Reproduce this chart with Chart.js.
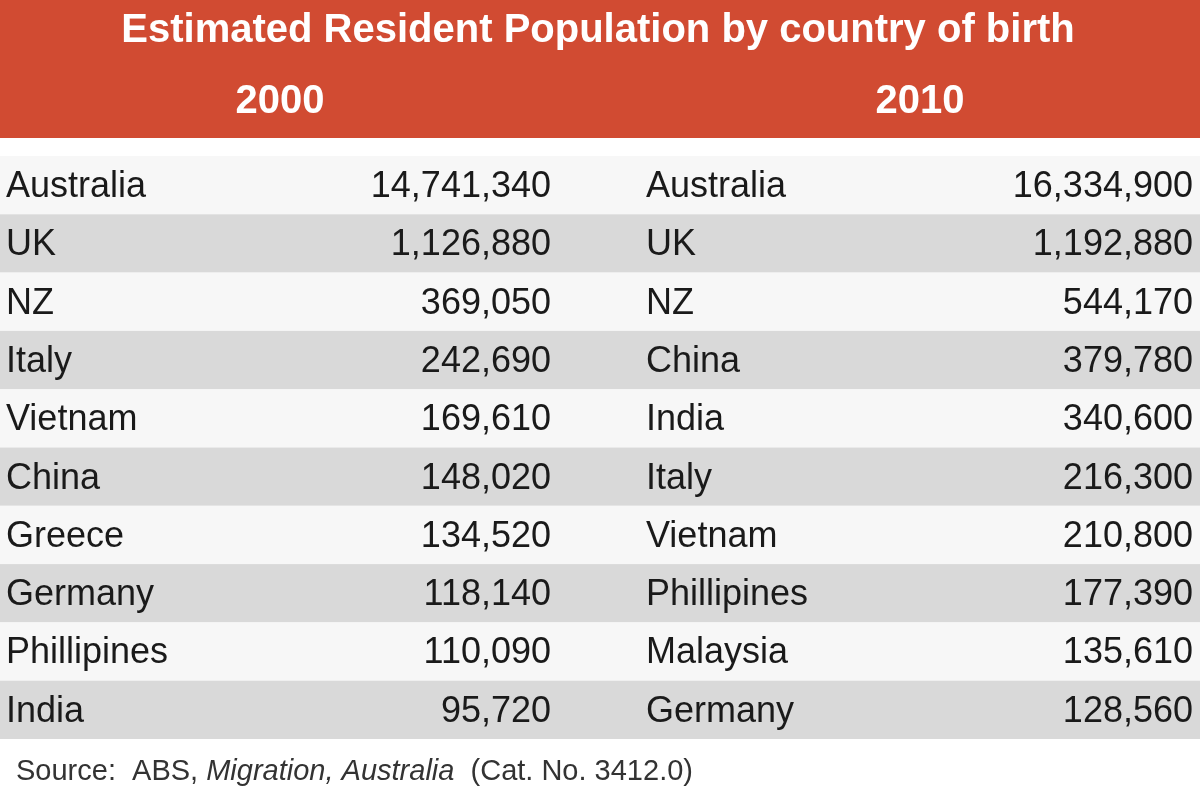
<!DOCTYPE html>
<html>
<head>
<meta charset="utf-8">
<script src="https://cdn.jsdelivr.net/npm/chart.js@4/dist/chart.umd.min.js"></script>
<style>
  html, body { margin: 0; padding: 0; background: #fff; }
  #wrap { width: 1200px; height: 807px; }
</style>
</head>
<body>
<div id="wrap"><canvas id="tbl"></canvas></div>
<script>
// data
const title = 'Estimated Resident Population by country of birth';
const years = ['2000', '2010'];
const countries2000 = ['Australia', 'UK', 'NZ', 'Italy', 'Vietnam', 'China', 'Greece', 'Germany', 'Phillipines', 'India'];
const values2000 = [14741340, 1126880, 369050, 242690, 169610, 148020, 134520, 118140, 110090, 95720];
const countries2010 = ['Australia', 'UK', 'NZ', 'China', 'India', 'Italy', 'Vietnam', 'Phillipines', 'Malaysia', 'Germany'];
const values2010 = [16334900, 1192880, 544170, 379780, 340600, 216300, 210800, 177390, 135610, 128560];
const rowIds = countries2000.map((c, i) => i);

const fmt = n => n.toLocaleString('en-US');
const FONT = '"Liberation Sans", Arial, sans-serif';

// draws the header band, row stripes and cell text using the y scale row positions
const tablePlugin = {
  id: 'tablePlugin',
  beforeDraw(chart) {
    const ctx = chart.ctx;
    const y = chart.scales.y;
    const w = chart.width;
    ctx.save();
    ctx.fillStyle = '#d14b32';
    ctx.fillRect(0, 0, w, 138);
    ctx.fillStyle = '#fff';
    ctx.textBaseline = 'middle';
    ctx.textAlign = 'center';
    ctx.font = 'bold 40px ' + FONT;
    ctx.fillText(title, 598, 31);
    ctx.font = 'bold 40px ' + FONT;
    ctx.fillText(years[0], 280, 102);
    ctx.fillText(years[1], 920, 102);

    const h = Math.abs(y.getPixelForValue(1) - y.getPixelForValue(0));
    rowIds.forEach(i => {
      const cy = y.getPixelForValue(i);
      ctx.fillStyle = i % 2 ? '#d9d9d9' : '#f7f7f7';
      ctx.fillRect(0, cy - h / 2, w, h);
    });

    ctx.fillStyle = '#1a1a1a';
    ctx.font = '36px ' + FONT;
    rowIds.forEach(i => {
      const cy = y.getPixelForValue(i) + 2;
      ctx.textAlign = 'left';
      ctx.fillText(countries2000[i], 6, cy);
      ctx.fillText(countries2010[i], 646, cy);
      ctx.textAlign = 'right';
      ctx.fillText(fmt(values2000[i]), 551, cy);
      ctx.fillText(fmt(values2010[i]), 1193, cy);
    });

    ctx.textAlign = 'left';
    ctx.fillStyle = '#333';
    let x = 16;
    const parts = [['Source:  ABS, ', ''], ['Migration, Australia', 'italic '], ['  (Cat. No. 3412.0)', '']];
    parts.forEach(p => {
      ctx.font = p[1] + '29px ' + FONT;
      ctx.fillText(p[0], x, 772);
      x += ctx.measureText(p[0]).width;
    });
    ctx.restore();
  }
};

new Chart(document.getElementById('tbl'), {
  type: 'bar',
  data: {
    labels: rowIds,
    datasets: [{ data: values2000, backgroundColor: 'rgba(0,0,0,0)' }]
  },
  options: {
    indexAxis: 'y',
    responsive: true,
    maintainAspectRatio: false,
    animation: false,
    layout: { padding: { top: 156, bottom: 68, left: 0, right: 0 } },
    plugins: { legend: { display: false }, tooltip: { enabled: false } },
    scales: {
      x: { display: false },
      y: { display: false, offset: true }
    }
  },
  plugins: [tablePlugin]
});
</script>
</body>
</html>
